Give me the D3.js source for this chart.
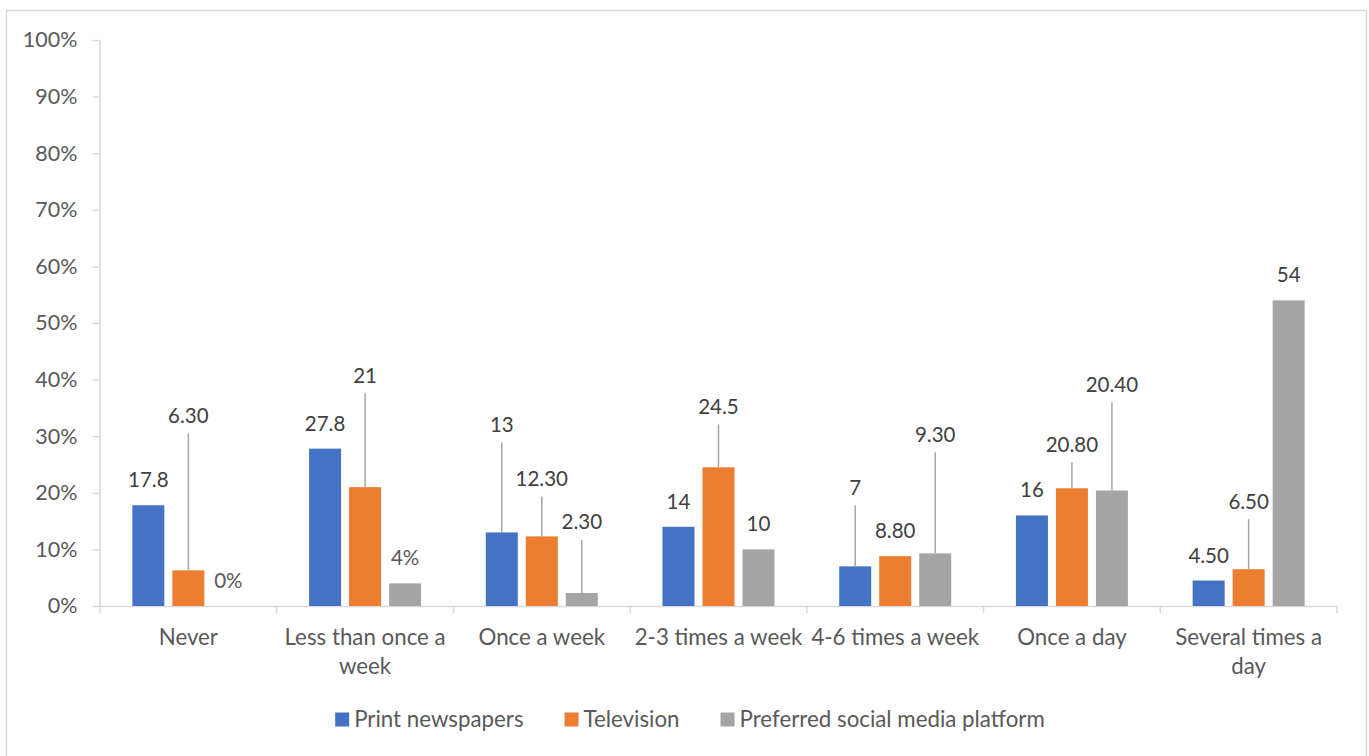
<!DOCTYPE html>
<html>
<head>
<meta charset="utf-8">
<script src="https://cdn.jsdelivr.net/npm/d3@7"></script>
<style>
  html, body { margin: 0; padding: 0; background: #fff; }
  svg { display: block; font-family: Lato, "Open Sans", sans-serif; }
</style>
</head>
<body>
<svg id="chart" width="1369" height="756"></svg>
<script>
// Frequency categories along the x axis
const categories = [
  "Never", "Less than once a week", "Once a week", "2-3 times a week",
  "4-6 times a week", "Once a day", "Several times a day"
];

// Series names shown in the legend
const seriesNames = ["Print newspapers", "Television", "Preferred social media platform"];

// Share of respondents (%) per category
const printValues  = [17.8, 27.8, 13, 14, 7, 16, 4.5];
const tvValues     = [6.3, 21, 12.3, 24.5, 8.8, 20.8, 6.5];
const socialValues = [0, 4, 2.3, 10, 9.3, 20.4, 54];

// Data label text as printed on each bar
const printLabels  = ["17.8", "27.8", "13", "14", "7", "16", "4.50"];
const tvLabels     = ["6.30", "21", "12.30", "24.5", "8.80", "20.80", "6.50"];
const socialLabels = ["0%", "4%", "2.30", "10", "9.30", "20.40", "54"];

// Y axis tick values (percent)
const yTicks = [0, 10, 20, 30, 40, 50, 60, 70, 80, 90, 100];

// Leader-line lengths (px) for labels lifted off their bars; 0 = label sits on the bar
const printLeader  = [0, 0, 90, 0, 61, 0, 0];
const tvLeader     = [137, 94, 40, 43, 0, 26, 50];
const socialLeader = [0, 0, 53, 0, 101, 88, 0];

const colors = ["#4472C4", "#ED7D31", "#A5A5A5"];
const seriesValues = [printValues, tvValues, socialValues];
const seriesLabels = [printLabels, tvLabels, socialLabels];
const seriesLeaders = [printLeader, tvLeader, socialLeader];

const TEXT_FONT = 22.3;   // category names and legend
const TICK_FONT = 21.5;   // y axis
const LABEL_FONT = 20.5;  // data labels
const svg = d3.select("#chart");

// chart frame
svg.append("rect")
  .attr("x", 6.5).attr("y", 10.5)
  .attr("width", 1360).attr("height", 780)
  .attr("fill", "#fff")
  .attr("stroke", "#D9D9D9").attr("stroke-width", 1.5);

const plot = { left: 100, right: 1337, top: 40, bottom: 606 };

const y = d3.scaleLinear().domain([0, 100]).range([plot.bottom, plot.top]);
const x0 = d3.scaleBand().domain(categories).range([plot.left, plot.right]).padding(0);
const bw = x0.bandwidth();
const groupW = 112;
const x1 = d3.scaleBand().domain(seriesNames)
  .range([(bw - groupW) / 2, (bw + groupW) / 2])
  .paddingInner(0.2).paddingOuter(0);

// Y axis
const yAxis = d3.axisLeft(y)
  .tickValues(yTicks)
  .tickFormat(d => d + "%")
  .tickSize(7)
  .tickSizeOuter(0)
  .tickPadding(15);

const yg = svg.append("g")
  .attr("transform", `translate(${plot.left - 0.5},0)`)
  .call(yAxis);
yg.select(".domain").attr("stroke", "#D9D9D9").attr("stroke-width", 1.5);
yg.selectAll(".tick line").attr("stroke", "#D9D9D9").attr("stroke-width", 1.5);
yg.selectAll(".tick text")
  .attr("fill", "#595959")
  .style("font-size", TICK_FONT + "px")
  .style("font-family", "Lato, 'Open Sans', sans-serif");

// X axis baseline and category boundary ticks
svg.append("line")
  .attr("x1", plot.left).attr("x2", plot.right)
  .attr("y1", plot.bottom + 0.5).attr("y2", plot.bottom + 0.5)
  .attr("stroke", "#D9D9D9").attr("stroke-width", 1.5);

const bounds = categories.map(c => x0(c)).concat([x0(categories[categories.length - 1]) + bw]);
svg.append("g").selectAll("line")
  .data(bounds)
  .join("line")
  .attr("x1", d => d).attr("x2", d => d)
  .attr("y1", plot.bottom).attr("y2", plot.bottom + 7)
  .attr("stroke", "#D9D9D9").attr("stroke-width", 1.5);

// Category labels, wrapped to the band width
const catG = svg.append("g");
categories.forEach(c => {
  const cx = x0(c) + bw / 2;
  const t = catG.append("text")
    .attr("x", cx)
    .attr("y", 645)
    .attr("text-anchor", "middle")
    .attr("fill", "#595959")
    .style("font-size", TEXT_FONT + "px");
  const words = c.split(" ");
  let line = [];
  let tspan = t.append("tspan").attr("x", cx).attr("dy", 0);
  words.forEach(w => {
    line.push(w);
    tspan.text(line.join(" "));
    if (tspan.node().getComputedTextLength() > bw - 6 && line.length > 1) {
      line.pop();
      tspan.text(line.join(" "));
      line = [w];
      tspan = t.append("tspan").attr("x", cx).attr("dy", 29).text(w);
    }
  });
});

// Flatten data for bars and labels
const cells = [];
categories.forEach((c, i) => {
  seriesNames.forEach((s, j) => {
    cells.push({
      cat: c, series: s, color: colors[j],
      value: seriesValues[j][i],
      label: seriesLabels[j][i],
      leader: seriesLeaders[j][i]
    });
  });
});

// Bars
svg.append("g").selectAll("rect")
  .data(cells.filter(d => d.value > 0))
  .join("rect")
  .attr("x", d => x0(d.cat) + x1(d.series))
  .attr("width", x1.bandwidth())
  .attr("y", d => y(d.value))
  .attr("height", d => y(0) - y(d.value))
  .attr("fill", d => d.color);

// Leader lines
svg.append("g").selectAll("line")
  .data(cells.filter(d => d.leader > 0))
  .join("line")
  .attr("x1", d => x0(d.cat) + x1(d.series) + x1.bandwidth() / 2)
  .attr("x2", d => x0(d.cat) + x1(d.series) + x1.bandwidth() / 2)
  .attr("y1", d => y(d.value))
  .attr("y2", d => y(d.value) - d.leader)
  .attr("stroke", "#A6A6A6").attr("stroke-width", 1.5);

// Data labels
svg.append("g").selectAll("text")
  .data(cells)
  .join("text")
  .attr("x", d => x0(d.cat) + x1(d.series) + x1.bandwidth() / 2)
  .attr("y", d => d.leader > 0 ? y(d.value) - d.leader - 10.5 : y(d.value) - 18)
  .attr("text-anchor", "middle")
  .attr("fill", d => d.label.endsWith("%") ? "#595959" : "#404040")
  .style("font-size", LABEL_FONT + "px")
  .text(d => d.label);

// Legend, centred under the chart
const legend = svg.append("g");
const items = seriesNames.map((s, j) => {
  const g = legend.append("g");
  g.append("rect").attr("width", 14).attr("height", 14).attr("y", -14.5).attr("fill", colors[j]);
  const t = g.append("text").attr("x", 19).attr("y", 0)
    .attr("fill", "#595959").style("font-size", TEXT_FONT + "px").text(s);
  return { g, w: 19 + t.node().getComputedTextLength() };
});
const gap = 41;
const totalW = d3.sum(items, d => d.w) + gap * (items.length - 1);
let lx = 690 - totalW / 2;
items.forEach(it => {
  it.g.attr("transform", `translate(${lx},727)`);
  lx += it.w + gap;
});
</script>
</body>
</html>
